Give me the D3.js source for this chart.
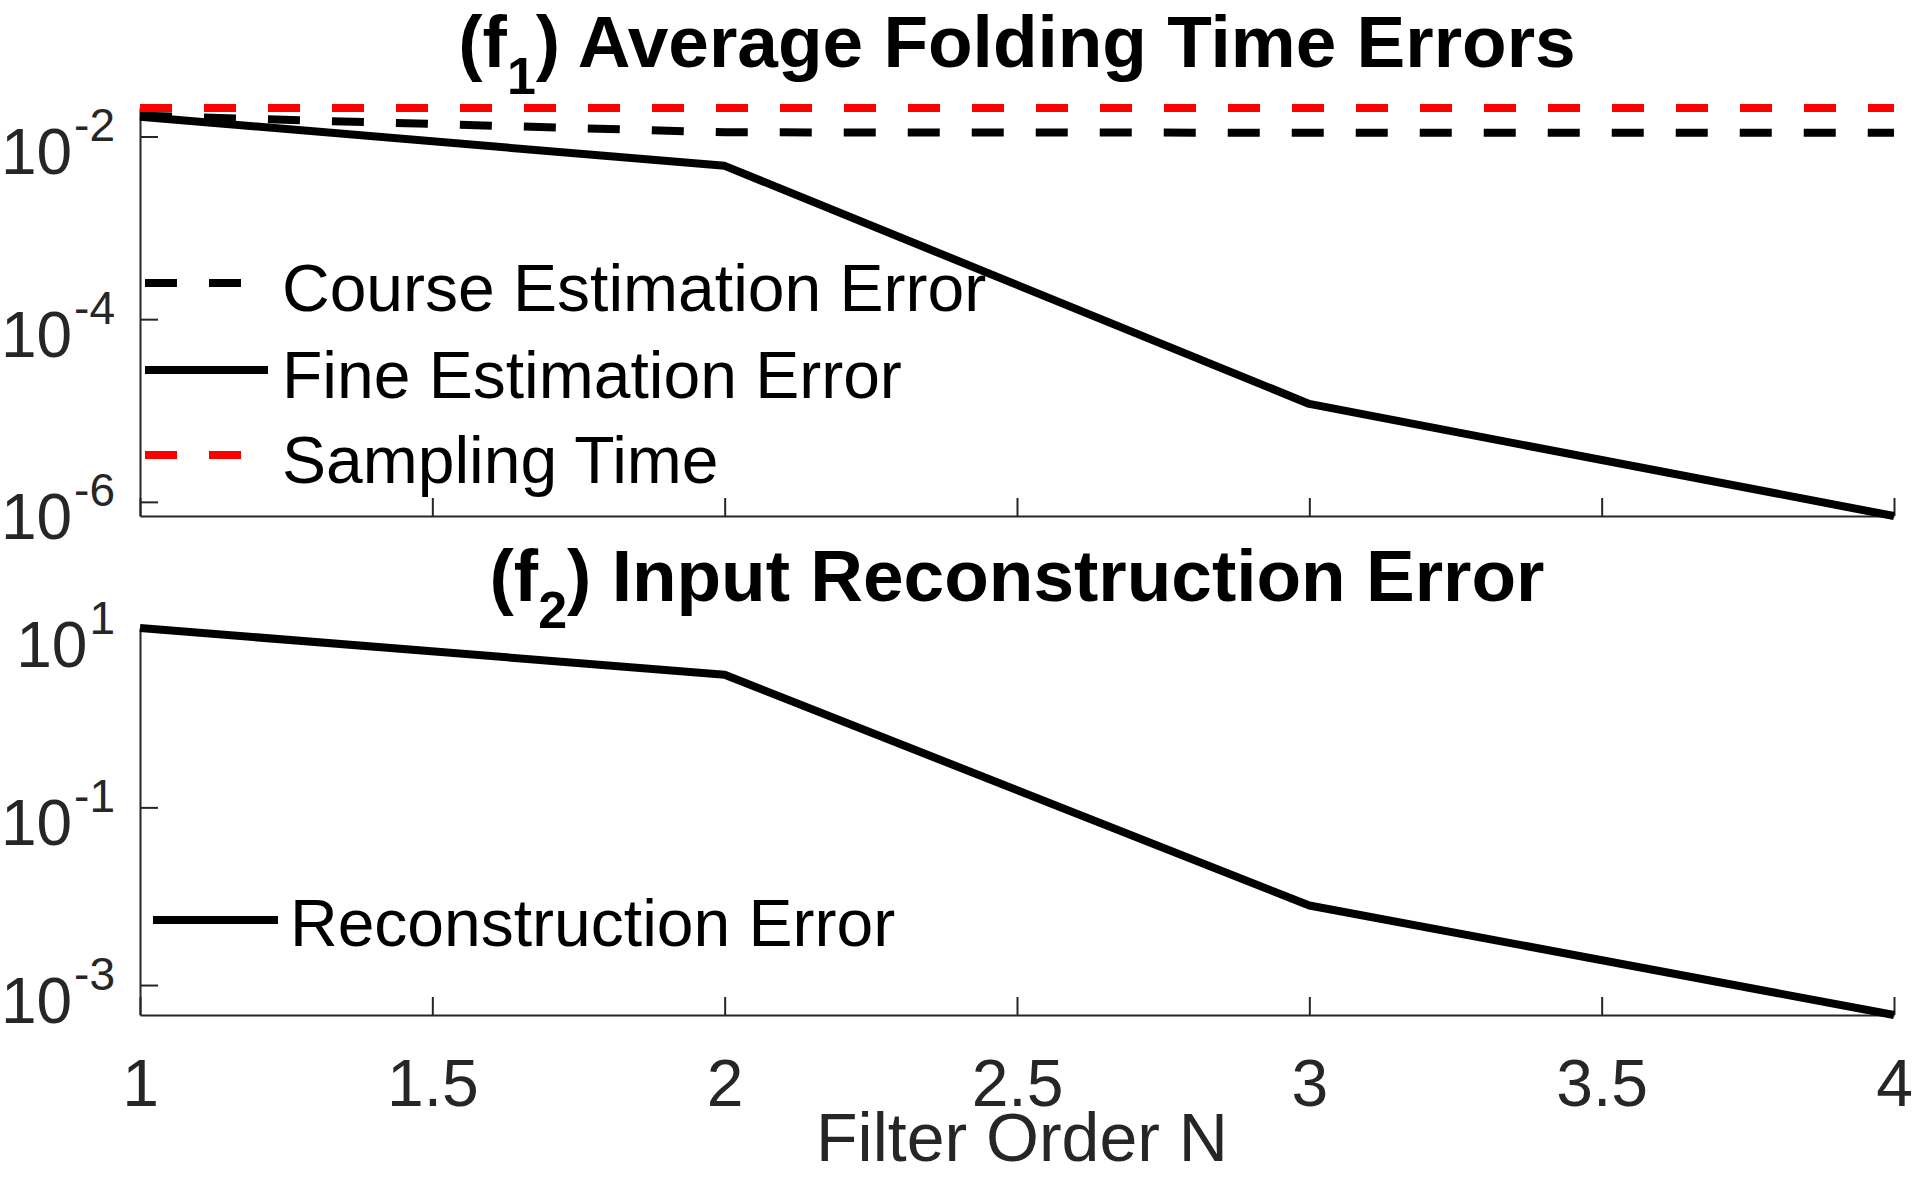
<!DOCTYPE html>
<html>
<head>
<meta charset="utf-8">
<script src="https://cdn.jsdelivr.net/npm/d3@7"></script>
<style>
  body { margin: 0; background: #fff; }
  text { font-family: "Liberation Sans", Arial, Helvetica, sans-serif; }
</style>
</head>
<body>
<div id="chart"></div>
<script>
// values
var filterOrder = [1, 2, 3, 4];
var coarseError = [0.0169, 0.0111, 0.0110, 0.0110];
var fineError = [0.01645, 0.00477, 1.18e-5, 7.0e-7];
var samplingTime = [0.0205, 0.0205, 0.0205, 0.0205];
var reconError = [10.45, 3.11, 0.00787, 4.6e-4];

var xTicks = [1, 1.5, 2, 2.5, 3, 3.5, 4];
var topYTicks = [1e-2, 1e-4, 1e-6];
var topYExp = ["-2", "-4", "-6"];
var botYTicks = [1e1, 1e-1, 1e-3];
var botYExp = ["1", "-1", "-3"];

var topLegend = ["Course Estimation Error", "Fine Estimation Error", "Sampling Time"];
var botLegend = ["Reconstruction Error"];

var width = 1913, height = 1177;
var axisColor = "#262626";

var svg = d3.select("#chart").append("svg")
    .attr("width", width)
    .attr("height", height)
    .style("background", "#fff");

var x = d3.scaleLinear().domain([1, 4]).range([140, 1894]);

var topAll = coarseError.concat(fineError, samplingTime);
var yTop = d3.scaleLog().domain(d3.extent(topAll)).range([516, 108]);
var yBot = d3.scaleLog().domain(d3.extent(reconError)).range([1015, 628]);

function drawAxes(y, yTicks, yExp, bottomY, showXLabels) {
  var gx = svg.append("g")
      .attr("transform", "translate(0," + bottomY + ")")
      .call(d3.axisBottom(x).tickValues(xTicks).tickSizeInner(-18).tickSizeOuter(0)
        .tickFormat(showXLabels ? d3.format("") : ""));
  gx.select(".domain").attr("stroke", axisColor).attr("stroke-width", 2);
  gx.selectAll(".tick line").attr("stroke", axisColor).attr("stroke-width", 2);
  gx.selectAll(".tick text")
      .attr("y", 91).attr("dy", 0)
      .attr("fill", axisColor)
      .style("font-size", "66px");

  var gy = svg.append("g")
      .attr("transform", "translate(140,0)")
      .call(d3.axisLeft(y).tickValues(yTicks).tickSizeInner(-18).tickSizeOuter(0).tickFormat(""));
  gy.select(".domain").attr("stroke", axisColor).attr("stroke-width", 2);
  gy.selectAll(".tick line").attr("stroke", axisColor).attr("stroke-width", 2);
  gy.selectAll(".tick text").remove();
  gy.selectAll(".tick").each(function(d, i) {
    var t = d3.select(this).append("text")
        .attr("x", -25).attr("y", 37)
        .attr("text-anchor", "end")
        .attr("fill", axisColor);
    t.append("tspan").style("font-size", "64px").text("10");
    t.append("tspan").attr("dy", -33).attr("dx", 2).style("font-size", "46px").text(yExp[i]);
  });
}

drawAxes(yTop, topYTicks, topYExp, 516, false);
drawAxes(yBot, botYTicks, botYExp, 1015, true);

function drawLine(y, values, color, dashed) {
  var line = d3.line().x(function(d, i) { return x(filterOrder[i]); }).y(function(d) { return y(d); });
  svg.append("path")
      .datum(values)
      .attr("d", line)
      .attr("fill", "none")
      .attr("stroke", color)
      .attr("stroke-width", 8)
      .attr("stroke-linejoin", "round")
      .attr("stroke-dasharray", dashed ? "32,32" : null);
}

drawLine(yTop, coarseError, "#000", true);
drawLine(yTop, fineError, "#000", false);
drawLine(yTop, samplingTime, "#ff0000", true);
drawLine(yBot, reconError, "#000", false);

// legends
var topStyles = [{c: "#000", d: true}, {c: "#000", d: false}, {c: "#ff0000", d: true}];
var topRows = [283, 370, 455];
topLegend.forEach(function(lbl, i) {
  svg.append("line")
      .attr("x1", 145).attr("x2", 268).attr("y1", topRows[i]).attr("y2", topRows[i])
      .attr("stroke", topStyles[i].c).attr("stroke-width", 8)
      .attr("stroke-dasharray", topStyles[i].d ? "32,32" : null);
  svg.append("text")
      .attr("x", 282).attr("y", topRows[i] + 28)
      .style("font-size", "66px").attr("fill", "#000")
      .text(lbl);
});
botLegend.forEach(function(lbl, i) {
  svg.append("line")
      .attr("x1", 153).attr("x2", 278).attr("y1", 920).attr("y2", 920)
      .attr("stroke", "#000").attr("stroke-width", 8);
  svg.append("text")
      .attr("x", 290).attr("y", 946)
      .style("font-size", "66px").attr("fill", "#000")
      .text(lbl);
});

// titles
function title(yPos, sub, rest) {
  var t = svg.append("text")
      .attr("x", 1017).attr("y", yPos)
      .attr("text-anchor", "middle")
      .style("font-weight", "bold")
      .style("font-size", "73px")
      .attr("fill", "#000");
  t.append("tspan").text("(f");
  t.append("tspan").attr("dy", 27).style("font-size", "52px").text(sub);
  t.append("tspan").attr("dy", -27).text(rest);
}
title(67, "1", ") Average Folding Time Errors");
title(601, "2", ") Input Reconstruction Error");

// x label
svg.append("text")
    .attr("x", 1022).attr("y", 1161)
    .attr("text-anchor", "middle")
    .style("font-size", "68px")
    .attr("fill", axisColor)
    .text("Filter Order N");
</script>
</body>
</html>
